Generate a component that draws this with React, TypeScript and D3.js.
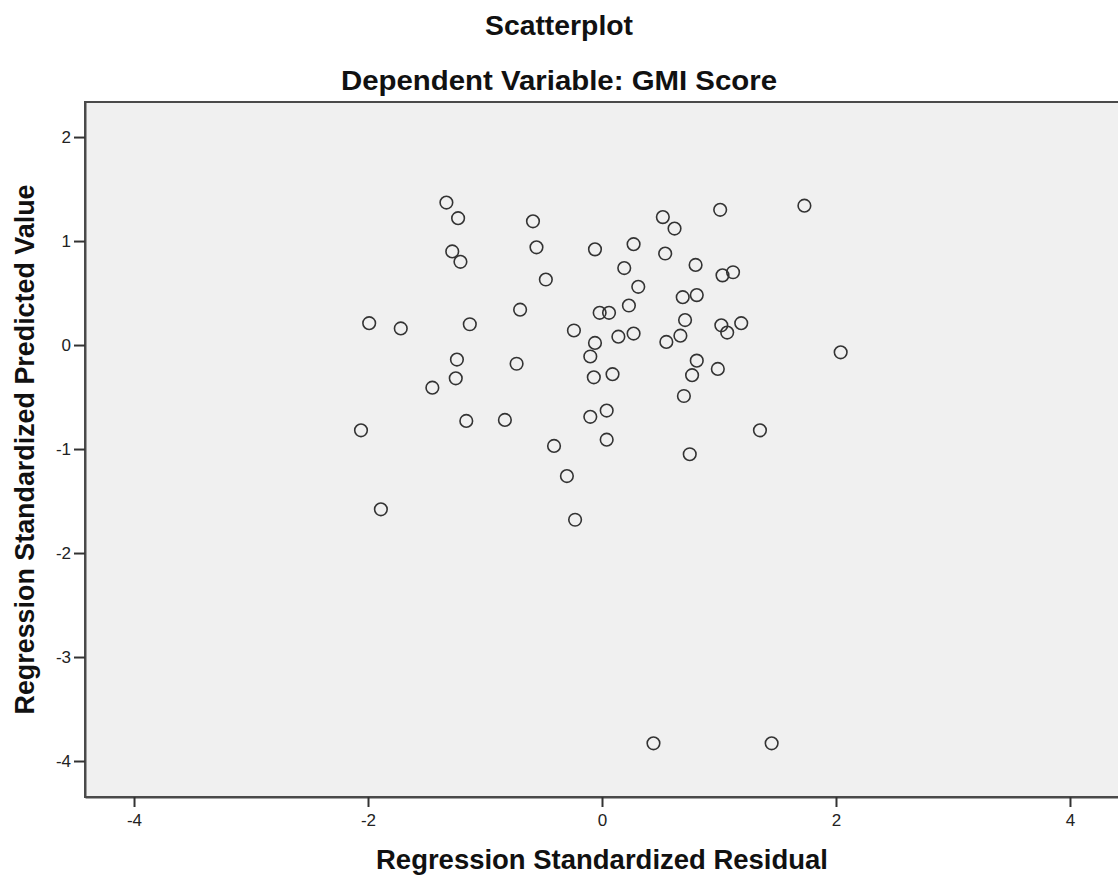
import React, { useRef, useEffect } from 'react';
import * as d3 from 'd3';

// Regression standardized residual (x) and standardized predicted value (y)
const residuals = [
  -1.33, -1.23, -1.28, -1.21, -0.59, -0.56, -0.48, -1.99, -1.72, -1.13, -0.70,
  -1.24, -1.25, -1.45, -0.73, -2.06, -1.16, -0.83, -0.41, -0.30, -0.23, -1.89,
  0.52, 0.62, 1.01, 1.73, -0.06, 0.27, 0.54, 0.19, 0.80, 1.03, 1.12, 0.31,
  0.69, 0.81, 0.23, -0.02, 0.06, 0.71, -0.24, -0.06, 0.14, 0.27, 0.55, 0.67,
  1.02, 1.19, 1.07, -0.10, -0.07, 0.09, 0.81, 0.77, 0.70, 0.99, 2.04, -0.10,
  0.04, 0.04, 0.75, 1.35, 0.44, 1.45,
];
const predicted = [
  1.37, 1.22, 0.90, 0.80, 1.19, 0.94, 0.63, 0.21, 0.16, 0.20, 0.34,
  -0.14, -0.32, -0.41, -0.18, -0.82, -0.73, -0.72, -0.97, -1.26, -1.68, -1.58,
  1.23, 1.12, 1.30, 1.34, 0.92, 0.97, 0.88, 0.74, 0.77, 0.67, 0.70, 0.56,
  0.46, 0.48, 0.38, 0.31, 0.31, 0.24, 0.14, 0.02, 0.08, 0.11, 0.03, 0.09,
  0.19, 0.21, 0.12, -0.11, -0.31, -0.28, -0.15, -0.29, -0.49, -0.23, -0.07, -0.69,
  -0.63, -0.91, -1.05, -0.82, -3.83, -3.83,
];
const xTicks = [-4, -2, 0, 2, 4];
const yTicks = [2, 1, 0, -1, -2, -3, -4];

const title = 'Scatterplot';
const subtitle = 'Dependent Variable: GMI Score';
const xTitle = 'Regression Standardized Residual';
const yTitle = 'Regression Standardized Predicted Value';

const App = () => {
  const svgRef = useRef<SVGSVGElement>(null);
  const width = 1118;
  const height = 881;

  useEffect(() => {
    if (!svgRef.current) return;
    const margin = { top: 102, left: 85, bottom: 84, right: -1 };
    const innerWidth = width - margin.left - margin.right;
    const innerHeight = height - margin.top - margin.bottom;

    const svg = d3.select(svgRef.current);
    svg.selectAll('*').remove();

    const font = '"Liberation Sans", Arial, sans-serif';

    // titles are centred on the whole image
    svg.append('text')
      .attr('x', width / 2).attr('y', 35)
      .attr('text-anchor', 'middle')
      .attr('font-family', font).attr('font-weight', 'bold').attr('font-size', 28)
      .attr('fill', '#111')
      .attr('textLength', 148).attr('lengthAdjust', 'spacingAndGlyphs')
      .text(title);
    svg.append('text')
      .attr('x', width / 2).attr('y', 90)
      .attr('text-anchor', 'middle')
      .attr('font-family', font).attr('font-weight', 'bold').attr('font-size', 28)
      .attr('fill', '#111')
      .attr('textLength', 436).attr('lengthAdjust', 'spacingAndGlyphs')
      .text(subtitle);

    const g = svg.append('g').attr('transform', `translate(${margin.left},${margin.top})`);

    const xScale = d3.scaleLinear().domain([-4.419, 4.419]).range([0, innerWidth]);
    const yScale = d3.scaleLinear().domain([-4.346, 2.337]).range([innerHeight, 0]);

    // plot area
    g.append('rect')
      .attr('x', 0).attr('y', 0)
      .attr('width', innerWidth + 10).attr('height', innerHeight)
      .attr('fill', '#f0f0f0')
      .attr('stroke', '#4a4a4a').attr('stroke-width', 2);

    // axes
    const xAxis = g.append('g')
      .attr('transform', `translate(0,${innerHeight})`)
      .call(d3.axisBottom(xScale).tickValues(xTicks).tickSize(10).tickSizeOuter(0).tickPadding(7).tickFormat(d3.format('d')));
    const yAxis = g.append('g')
      .call(d3.axisLeft(yScale).tickValues(yTicks).tickSize(11).tickSizeOuter(0).tickPadding(3).tickFormat(d3.format('d')));

    [xAxis, yAxis].forEach(ax => {
      ax.attr('font-size', null);
      ax.select('.domain').attr('stroke', '#4a4a4a').attr('stroke-width', 2);
      ax.selectAll('.tick line').attr('stroke', '#333').attr('stroke-width', 2);
      ax.selectAll('.tick text')
        .attr('font-family', font).attr('font-size', 17).attr('fill', '#222')
        .text((d: any) => (d < 0 ? '-' + Math.abs(d) : String(d)));
    });

    // data points
    g.selectAll('.point')
      .data(residuals.map((r, i) => ({ x: r, y: predicted[i] })))
      .enter()
      .append('circle')
      .attr('class', 'point')
      .attr('cx', d => xScale(d.x))
      .attr('cy', d => yScale(d.y))
      .attr('r', 6.3)
      .attr('fill', 'none')
      .attr('stroke', '#333')
      .attr('stroke-width', 1.6);

    // axis titles
    svg.append('text')
      .attr('x', margin.left + xScale(0)).attr('y', 869)
      .attr('text-anchor', 'middle')
      .attr('font-family', font).attr('font-weight', 'bold').attr('font-size', 27)
      .attr('fill', '#111')
      .attr('textLength', 452).attr('lengthAdjust', 'spacingAndGlyphs')
      .text(xTitle);
    svg.append('text')
      .attr('transform', `translate(34,${margin.top + innerHeight / 2}) rotate(-90)`)
      .attr('text-anchor', 'middle')
      .attr('font-family', font).attr('font-weight', 'bold').attr('font-size', 27)
      .attr('fill', '#111')
      .attr('textLength', 530).attr('lengthAdjust', 'spacingAndGlyphs')
      .text(yTitle);
  }, []);

  return (
    <svg
      ref={svgRef}
      width={width}
      height={height}
      style={{ position: 'absolute', left: 0, top: 0, background: '#fff' }}
    />
  );
};

export default App;
